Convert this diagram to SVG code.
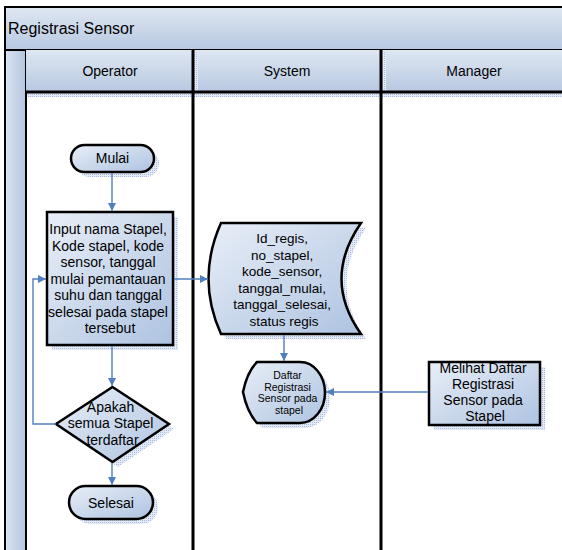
<svg xmlns="http://www.w3.org/2000/svg" width="562" height="550" viewBox="0 0 562 550">
<defs>
<linearGradient id="nodeGrad" x1="0" y1="0" x2="1" y2="1">
<stop offset="0" stop-color="#e8eef7"/>
<stop offset="1" stop-color="#aec3e1"/>
</linearGradient>
<linearGradient id="barGrad" x1="0" y1="0" x2="0" y2="1">
<stop offset="0" stop-color="#dfe7f2"/>
<stop offset="1" stop-color="#b7c8e1"/>
</linearGradient>
<linearGradient id="stripGrad" x1="0" y1="0" x2="1" y2="0">
<stop offset="0" stop-color="#dbe4f1"/>
<stop offset="1" stop-color="#b3c5df"/>
</linearGradient>
<pattern id="dots" width="2" height="2" patternUnits="userSpaceOnUse">
<rect width="2" height="2" fill="#e4eaf6"/>
<rect width="1" height="1" fill="#a9bde3"/>
</pattern>
<marker id="arrow" viewBox="0 0 10 10" refX="10" refY="5" markerWidth="8" markerHeight="8" markerUnits="userSpaceOnUse" orient="auto">
<path d="M0,0 L10,5 L0,10 Z" fill="#4f7fc0"/>
</marker>
<style>
.node{fill:url(#nodeGrad);stroke:#000;stroke-width:2.5}
.shadow{fill:url(#dots)}
.t{font-family:"Liberation Sans",Arial,sans-serif;fill:#000;text-anchor:middle}
.conn{fill:none;stroke:#4f7fc0;stroke-width:1.4}
.lane{stroke:#000;stroke-width:3}
</style>
</defs>

<g id="pool">
<rect x="5" y="7" width="600" height="43" fill="url(#barGrad)" stroke="#000" stroke-width="2"/>
<text x="8" y="34" font-family="Liberation Sans, Arial, sans-serif" font-size="16">Registrasi Sensor</text>
<rect x="5" y="50" width="21" height="510" fill="url(#stripGrad)" stroke="#000" stroke-width="2"/>
<rect x="26" y="50" width="167" height="42" fill="url(#barGrad)"/>
<rect x="193" y="50" width="188" height="42" fill="url(#barGrad)"/>
<rect x="381" y="50" width="190" height="42" fill="url(#barGrad)"/>
<rect x="27" y="93" width="540" height="4" fill="url(#dots)"/>
<rect x="195" y="52" width="3" height="44" fill="url(#dots)"/>
<rect x="383" y="52" width="3" height="44" fill="url(#dots)"/>
<line x1="26" y1="92" x2="562" y2="92" class="lane" stroke-width="2"/>
<line x1="193" y1="50" x2="193" y2="550" class="lane"/>
<line x1="381" y1="50" x2="381" y2="550" class="lane"/>
<text class="t" x="110" y="76" font-size="14">Operator</text>
<text class="t" x="287" y="76" font-size="14">System</text>
<text class="t" x="474" y="76" font-size="14">Manager</text>
</g>

<g id="mulai">
<rect class="shadow" x="76" y="150" width="83" height="27" rx="13.5"/>
<rect class="node" x="71" y="145" width="83" height="27" rx="13.5"/>
<text class="t" x="112.5" y="163" font-size="14">Mulai</text>
</g>

<g id="input">
<rect class="shadow" x="52" y="217" width="126" height="133"/>
<rect class="node" x="47" y="212" width="126" height="133"/>
<text class="t" font-size="14">
<tspan x="110" y="234">Input nama Stapel,</tspan>
<tspan x="110" y="250.5">Kode stapel, kode</tspan>
<tspan x="110" y="267">sensor, tanggal</tspan>
<tspan x="110" y="283.5">mulai pemantauan</tspan>
<tspan x="110" y="300">suhu dan tanggal</tspan>
<tspan x="110" y="316.5">selesai pada stapel</tspan>
<tspan x="110" y="333">tersebut</tspan>
</text>
</g>

<g id="data">
<path class="shadow" d="M226,228 L366,228 Q327,284 366,339 L226,339 Q201,284 226,228 Z"/>
<path class="node" d="M221,223 L361,223 Q322,279 361,334 L221,334 Q196,279 221,223 Z"/>
<text class="t" font-size="13.5">
<tspan x="284" y="243">Id_regis,</tspan>
<tspan x="284" y="259.5">no_stapel,</tspan>
<tspan x="284" y="276">kode_sensor,</tspan>
<tspan x="284" y="292.5">tanggal_mulai,</tspan>
<tspan x="284" y="309">tanggal_selesai,</tspan>
<tspan x="284" y="325.5">status regis</tspan>
</text>
</g>

<g id="display">
<path class="shadow" d="M262,367 L305,367 A25,30.5 0 0 1 305,428 L262,428 Q252,417 248,397 Q252,377 262,367 Z"/>
<path class="node" d="M257,362 L300,362 A25,30.5 0 0 1 300,423 L257,423 Q247,412 243,392 Q247,372 257,362 Z"/>
<text class="t" font-size="10.5">
<tspan x="289" y="379">Daftar</tspan>
<tspan x="289" y="390.5">Registrasi</tspan>
<tspan x="289" y="402">Sensor pada</tspan>
<tspan x="289" y="413.5">stapel</tspan>
</text>
</g>

<g id="manager">
<rect class="shadow" x="434" y="367" width="111" height="63"/>
<rect x="429" y="362" width="111" height="63" fill="url(#nodeGrad)"/>
<text class="t" font-size="14">
<tspan x="485" y="373">Melihat Daftar</tspan>
<tspan x="485" y="389">Registrasi</tspan>
<tspan x="485" y="405">Sensor pada</tspan>
<tspan x="485" y="421">Stapel</tspan>
</text>
<rect x="429" y="362" width="111" height="63" fill="none" stroke="#000" stroke-width="2.5"/>
</g>

<g id="decision">
<path class="shadow" d="M118,392 L174,429 L118,467 L61,429 Z"/>
<path class="node" d="M112.5,387 L169,424 L112.5,462 L56,424 Z"/>
<text class="t" font-size="14">
<tspan x="112.5" y="412">Apakah</tspan>
<tspan x="112.5" y="428">semua Stapel</tspan>
<tspan x="112.5" y="445">terdaftar</tspan>
</text>
</g>

<g id="selesai">
<rect class="shadow" x="74" y="491" width="84" height="33" rx="16.5"/>
<rect class="node" x="69" y="486" width="84" height="33" rx="16.5"/>
<text class="t" x="111" y="508" font-size="14">Selesai</text>
</g>

<g id="connectors">
<line class="conn" x1="112" y1="173" x2="112" y2="211" marker-end="url(#arrow)"/>
<line class="conn" x1="174" y1="279" x2="208" y2="279" marker-end="url(#arrow)"/>
<line class="conn" x1="284" y1="335" x2="284" y2="361" marker-end="url(#arrow)"/>
<line class="conn" x1="112" y1="346" x2="112" y2="386" marker-end="url(#arrow)"/>
<line class="conn" x1="112" y1="463" x2="112" y2="485" marker-end="url(#arrow)"/>
<polyline class="conn" points="56,424 33,424 33,279 46,279" marker-end="url(#arrow)"/>
<line class="conn" x1="428" y1="392" x2="326" y2="392" marker-end="url(#arrow)"/>
</g>
</svg>
